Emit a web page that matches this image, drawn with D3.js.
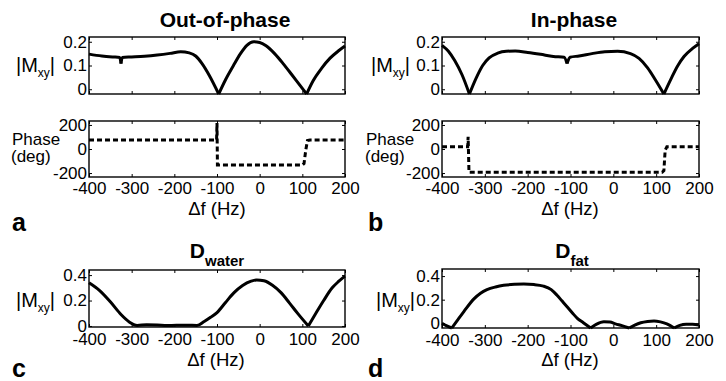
<!DOCTYPE html>
<html><head><meta charset="utf-8">
<script src="https://cdn.jsdelivr.net/npm/d3@7"></script>
<style>
html,body{margin:0;padding:0;background:#fff;}
svg{display:block;font-family:"Liberation Sans",Arial,Helvetica,sans-serif;}
</style></head>
<body>
<svg id="chart" width="726" height="381"></svg>
<script>
// ---------- data ----------
const freqTicks = [-400, -300, -200, -100, 0, 100, 200];
const magTicksSmall = [0, 0.1, 0.2];
const magTicksLarge = [0, 0.2, 0.4];
const phaseTicks = [-200, 0, 200];

// (a) Out-of-phase |Mxy|
const aMagHz = [-400,-370,-345,-328,-325,-322,-300,-270,-240,-210,-185,-165,-150,-135,-118,-96,-80,-62,-45,-30,-14,0,15,35,55,75,95,110,125,145,165,185,200];
const aMag   = [0.148,0.140,0.136,0.134,0.108,0.134,0.136,0.139,0.144,0.151,0.158,0.153,0.140,0.108,0.058,-0.02,0.040,0.098,0.150,0.185,0.200,0.197,0.183,0.150,0.108,0.062,0.015,-0.02,0.035,0.088,0.131,0.162,0.182];
const aCuspHz = [-325, -96, 110];
// (a) phase
const aPhaseHz = [-400,-101,-100,-99,100,104,108,112,118,200];
const aPhase   = [75,75,216,-133,-133,-120,-10,70,75,75];

// (b) In-phase |Mxy|
const bMagHz = [-400,-385,-370,-353,-336,-320,-305,-290,-270,-250,-229,-200,-170,-140,-115,-108,-101,-80,-50,-20,10,40,60,80,98,118,135,150,165,185,200];
const bMag   = [0.185,0.160,0.120,0.060,-0.02,0.048,0.100,0.132,0.152,0.160,0.161,0.155,0.147,0.138,0.135,0.108,0.135,0.140,0.150,0.158,0.160,0.150,0.130,0.090,0.040,-0.02,0.045,0.098,0.138,0.172,0.192];
const bCuspHz = [-336, -108, 118];
// (b) phase
const bPhaseHz = [-400,-340,-339,-337,114,118,121,125,200];
const bPhase   = [19,19,102,-194,-194,-180,-10,19,19];

// (c) D_water
const cMagHz = [-400,-375,-350,-325,-305,-287,-265,-240,-217,-195,-170,-147,-130,-115,-100,-80,-60,-40,-20,-7,10,30,50,70,90,114,130,150,170,185,200];
const cMag   = [0.339,0.278,0.190,0.090,0.030,0.004,0.010,0.008,0.003,0.006,0.006,0.004,0.035,0.068,0.105,0.185,0.262,0.318,0.352,0.362,0.355,0.320,0.262,0.180,0.095,0.0,0.090,0.200,0.300,0.350,0.392];
const cCuspHz = [114];

// (d) D_fat
const dMagHz = [-400,-390,-377,-365,-349,-326,-310,-295,-275,-256,-230,-209,-185,-163,-145,-132,-120,-108,-95,-84,-70,-53,-40,-22,-8,5,20,37,50,64,80,95,110,125,142,155,170,185,200];
const dMag   = [0.0,-0.02,-0.04,0.02,0.099,0.205,0.255,0.285,0.308,0.322,0.330,0.332,0.328,0.315,0.285,0.240,0.190,0.140,0.085,0.042,0.005,-0.04,-0.01,0.012,0.010,-0.005,-0.02,-0.04,-0.015,0.005,0.016,0.020,0.012,-0.005,-0.04,-0.018,-0.008,-0.008,-0.014];
const dCuspHz = [-377, -53, 37, 142];

// ---------- layout ----------
const svg = d3.select("#chart");
const FONT_TICK = 17;

function box(o) {
  const x = d3.scaleLinear().domain([-400, 200]).range([o.x0, o.x1]);
  const y = d3.scaleLinear().domain(o.yDomain).range([o.y1, o.y0]);
  const g = svg.append("g");
  const fmt = d => String(d);
  const left = g.append("g").attr("transform", `translate(${o.x0},0)`)
    .call(d3.axisLeft(y).tickValues(o.yTicks).tickSize(-3).tickPadding(2).tickFormat(fmt));
  const bottom = g.append("g").attr("transform", `translate(0,${o.y1})`)
    .call(d3.axisBottom(x).tickValues(freqTicks).tickSize(-3).tickPadding(o.xPad || 5).tickFormat(o.xLabels ? fmt : ""));
  const right = g.append("g").attr("transform", `translate(${o.x1},0)`)
    .call(d3.axisRight(y).tickValues(o.yTicks).tickSize(-3).tickFormat(""));
  const top = g.append("g").attr("transform", `translate(0,${o.y0})`)
    .call(d3.axisTop(x).tickValues(freqTicks).tickSize(-3).tickFormat(""));
  [left, bottom, right, top].forEach(a => {
    a.select(".domain").remove();
    a.selectAll("line").attr("stroke", "#000").attr("stroke-width", 1);
    a.selectAll("text").attr("fill", "#000").style("font-size", FONT_TICK + "px")
      .style("font-family", '"Liberation Sans",Arial,sans-serif');
  });
  g.append("rect").attr("x", o.x0).attr("y", o.y0)
    .attr("width", o.x1 - o.x0).attr("height", o.y1 - o.y0)
    .attr("fill", "none").attr("stroke", "#000").attr("stroke-width", 1.4);
  return {x, y, g};
}

function drawMag(b, hz, vals, cusps) {
  const pts = hz.map((h, i) => [h, vals[i]]);
  const segs = [];
  let cur = [];
  pts.forEach(p => {
    cur.push(p);
    if (cusps.includes(p[0])) { segs.push(cur); cur = [p]; }
  });
  if (cur.length > 1) segs.push(cur);
  const line = d3.line().x(d => b.x(d[0])).y(d => b.y(d[1])).curve(d3.curveMonotoneX);
  segs.forEach(s => {
    b.g.append("path").attr("d", line(s)).attr("fill", "none")
      .attr("stroke", "#000").attr("stroke-width", 3).attr("stroke-linejoin", "round");
  });
}

function drawPhase(b, hz, vals) {
  const line = d3.line().x((d, i) => b.x(hz[i])).y(d => b.y(d)).curve(d3.curveLinear);
  b.g.append("path").attr("d", line(vals)).attr("fill", "none")
    .attr("stroke", "#000").attr("stroke-width", 3).attr("stroke-dasharray", "5,3");
}

function text(x, y, s, size, opts = {}) {
  const t = svg.append("text").attr("x", x).attr("y", y)
    .style("font-size", size + "px").attr("fill", "#000")
    .attr("text-anchor", opts.anchor || "start")
    .style("font-weight", opts.bold ? "bold" : "normal");
  t.text(s);
  return t;
}

function mxyLabel(x, y) {
  const t = svg.append("text").attr("x", x).attr("y", y).style("font-size", "20px").attr("fill", "#000");
  t.append("tspan").text("|M");
  t.append("tspan").attr("dy", 5).style("font-size", "12px").text("xy");
  t.append("tspan").attr("dy", -5).text("|");
}

function titleSub(cx, y, main, sub) {
  const t = svg.append("text").attr("x", cx).attr("y", y).attr("text-anchor", "middle")
    .style("font-size", "21px").style("font-weight", "bold").attr("fill", "#000");
  t.append("tspan").text(main);
  t.append("tspan").attr("dy", 8).style("font-size", "15px").text(sub);
}

// ---------- panel a ----------
const aTop = box({x0: 89, x1: 345, y0: 37, y1: 94, yDomain: [-0.02, 0.22], yTicks: magTicksSmall, xLabels: false});
drawMag(aTop, aMagHz, aMag, aCuspHz);
const aPh = box({x0: 89, x1: 345, y0: 121, y1: 177, yDomain: [-233, 233], yTicks: phaseTicks, xLabels: true});
drawPhase(aPh, aPhaseHz, aPhase);
text(225, 27, "Out-of-phase", 21, {anchor: "middle", bold: true});
mxyLabel(16, 72);
text(12, 145, "Phase", 17);
text(11, 162, "(deg)", 17);
text(217, 215, "\u0394f (Hz)", 18.5, {anchor: "middle"});
text(12, 231, "a", 25, {bold: true});

// ---------- panel b ----------
const bTop = box({x0: 442, x1: 699, y0: 37, y1: 94, yDomain: [-0.02, 0.22], yTicks: magTicksSmall, xLabels: false});
drawMag(bTop, bMagHz, bMag, bCuspHz);
const bPh = box({x0: 442, x1: 699, y0: 121, y1: 177, yDomain: [-233, 233], yTicks: phaseTicks, xLabels: true});
drawPhase(bPh, bPhaseHz, bPhase);
text(574, 27, "In-phase", 21, {anchor: "middle", bold: true});
mxyLabel(371, 72);
text(366, 145, "Phase", 17);
text(365, 162, "(deg)", 17);
text(570, 215, "\u0394f (Hz)", 18.5, {anchor: "middle"});
text(368, 231, "b", 25, {bold: true});

// ---------- panel c ----------
const cP = box({x0: 89, x1: 345, y0: 270, y1: 327, yDomain: [-0.008, 0.44], yTicks: magTicksLarge, xLabels: true, xPad: 6});
drawMag(cP, cMagHz, cMag, cCuspHz);
titleSub(217, 258, "D", "water");
mxyLabel(16, 307);
text(216, 366, "\u0394f (Hz)", 18.5, {anchor: "middle"});
text(12, 377, "c", 25, {bold: true});

// ---------- panel d ----------
const dP = box({x0: 442, x1: 699, y0: 269, y1: 328, yDomain: [-0.04, 0.46], yTicks: magTicksLarge, xLabels: true, xPad: 6});
drawMag(dP, dMagHz, dMag, dCuspHz);
titleSub(572, 258, "D", "fat");
mxyLabel(376, 307);
text(570, 366, "\u0394f (Hz)", 18.5, {anchor: "middle"});
text(368, 377, "d", 25, {bold: true});
</script>
</body></html>
